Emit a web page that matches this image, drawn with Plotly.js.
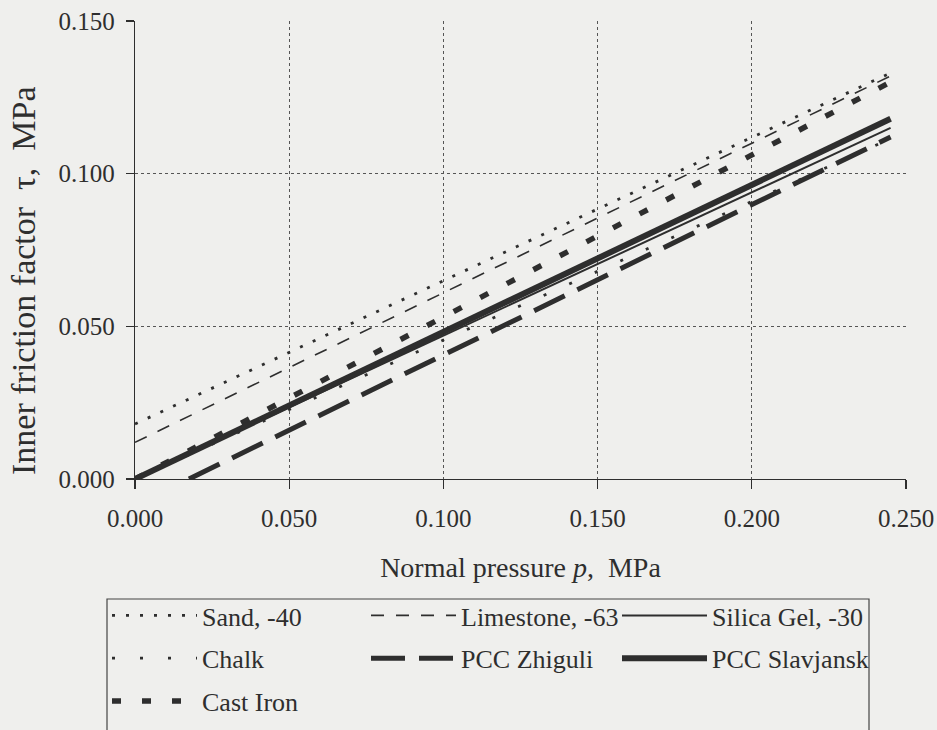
<!DOCTYPE html>
<html>
<head>
<meta charset="utf-8">
<script src="https://cdn.plot.ly/plotly-3.0.1.min.js"></script>
<style>
  html, body { margin: 0; padding: 0; background: #efefed; }
  #chart { width: 937px; height: 730px; }
</style>
</head>
<body>
<div id="chart"></div>
<script>
// Normal pressure p, MPa
const pressure = [0.000, 0.050, 0.100, 0.150, 0.200, 0.245];
// PCC Zhiguli only starts above zero pressure
const pressureZhiguli = [0.0175, 0.050, 0.100, 0.150, 0.200, 0.245];

// Inner friction factor tau, MPa, per material
const sand = [0.018, 0.0415, 0.065, 0.0885, 0.112, 0.133];
const limestone = [0.012, 0.0365, 0.061, 0.0855, 0.110, 0.132];
const silicaGel = [0.000, 0.0235, 0.047, 0.0705, 0.094, 0.115];
const chalk = [0.000, 0.0228, 0.0455, 0.068, 0.091, 0.1115];
const pccZhiguli = [0.000, 0.016, 0.0406, 0.0652, 0.0898, 0.112];
const pccSlavjansk = [0.000, 0.0241, 0.0482, 0.0723, 0.0964, 0.118];
const castIron = [0.000, 0.0265, 0.053, 0.0795, 0.106, 0.130];

const xTicks = [0, 0.05, 0.10, 0.15, 0.20, 0.25];
const yTicks = [0, 0.05, 0.10, 0.15];

const ink = '#2e2e2e';
const serif = 'Liberation Serif, Times New Roman, serif';

function series(name, x, y, width, dash, legend) {
  return {
    type: 'scatter', mode: 'lines', name: name, x: x, y: y,
    line: { color: ink, width: width, dash: dash },
    legend: legend, legendgroup: name,
    hoverinfo: 'skip'
  };
}

const traces = [
  series('Sand, -40', pressure, sand, 2.8, '3px,11px', 'legend'),
  series('Chalk', pressure, chalk, 2.8, '3px,25px', 'legend'),
  series('Cast Iron', pressure, castIron, 5.5, '9px,21px', 'legend'),
  series('Limestone, -63', pressure, limestone, 1.6, '13px,12px', 'legend2'),
  series('PCC Zhiguli', pressureZhiguli, pccZhiguli, 5, '34px,14px', 'legend2'),
  series('Silica Gel, -30', pressure, silicaGel, 2, 'solid', 'legend3'),
  series('PCC Slavjansk', pressure, pccSlavjansk, 6, 'solid', 'legend3')
];

// plot area in pixels: left 135, right 906, top 21, bottom 479
const L = 135, R = 906, T = 21, B = 479;
const px = v => (v - L) / (R - L);
const py = v => (B - v) / (B - T);

function legendBox(xPix) {
  return {
    x: px(xPix), y: py(592), xanchor: 'left', yanchor: 'top',
    orientation: 'v', traceorder: 'grouped', tracegroupgap: 6,
    bgcolor: 'rgba(0,0,0,0)', borderwidth: 0, itemwidth: 85,
    font: { family: serif, size: 26, color: ink }
  };
}

const layout = {
  width: 937, height: 730,
  margin: { l: L, r: 937 - R, t: T, b: 730 - B, autoexpand: false },
  paper_bgcolor: '#efefed', plot_bgcolor: '#efefed',
  showlegend: true,
  font: { family: serif, size: 25, color: ink },
  xaxis: {
    range: [0, 0.25], tickvals: xTicks, tickformat: '.3f',
    showline: true, linecolor: ink, linewidth: 1.2,
    ticks: 'outside', ticklen: 9, tickcolor: ink, tickwidth: 1.2,
    ticklabelstandoff: 8,
    showgrid: true, gridcolor: '#555', griddash: 'dot', gridwidth: 1,
    zeroline: false,
    tickfont: { family: serif, size: 25, color: ink },
    title: { text: 'Normal pressure <i>p</i>,  MPa', standoff: 26,
             font: { family: serif, size: 28, color: ink } }
  },
  yaxis: {
    range: [0, 0.15], tickvals: yTicks, tickformat: '.3f',
    showline: true, linecolor: ink, linewidth: 1.2,
    ticks: 'outside', ticklen: 8, tickcolor: ink, tickwidth: 1.2,
    ticklabelstandoff: 6,
    showgrid: true, gridcolor: '#555', griddash: 'dot', gridwidth: 1,
    zeroline: false,
    tickfont: { family: serif, size: 25, color: ink }
  },
  annotations: [{
    // vertical axis title, set a little below the plot centre
    text: 'Inner friction factor  τ,  MPa', textangle: -90,
    xref: 'paper', yref: 'paper', x: px(23), y: py(281),
    xanchor: 'center', yanchor: 'middle', showarrow: false,
    font: { family: serif, size: 34, color: ink }
  }],
  legend: legendBox(107),
  legend2: legendBox(366),
  legend3: legendBox(617),
  shapes: [{
    type: 'rect', xref: 'paper', yref: 'paper',
    x0: px(107), x1: px(869), y0: py(599), y1: py(745),
    line: { color: '#444', width: 1.2 }, fillcolor: 'rgba(0,0,0,0)'
  }]
};

Plotly.newPlot('chart', traces, layout, { displayModeBar: false, staticPlot: true });
</script>
</body>
</html>
